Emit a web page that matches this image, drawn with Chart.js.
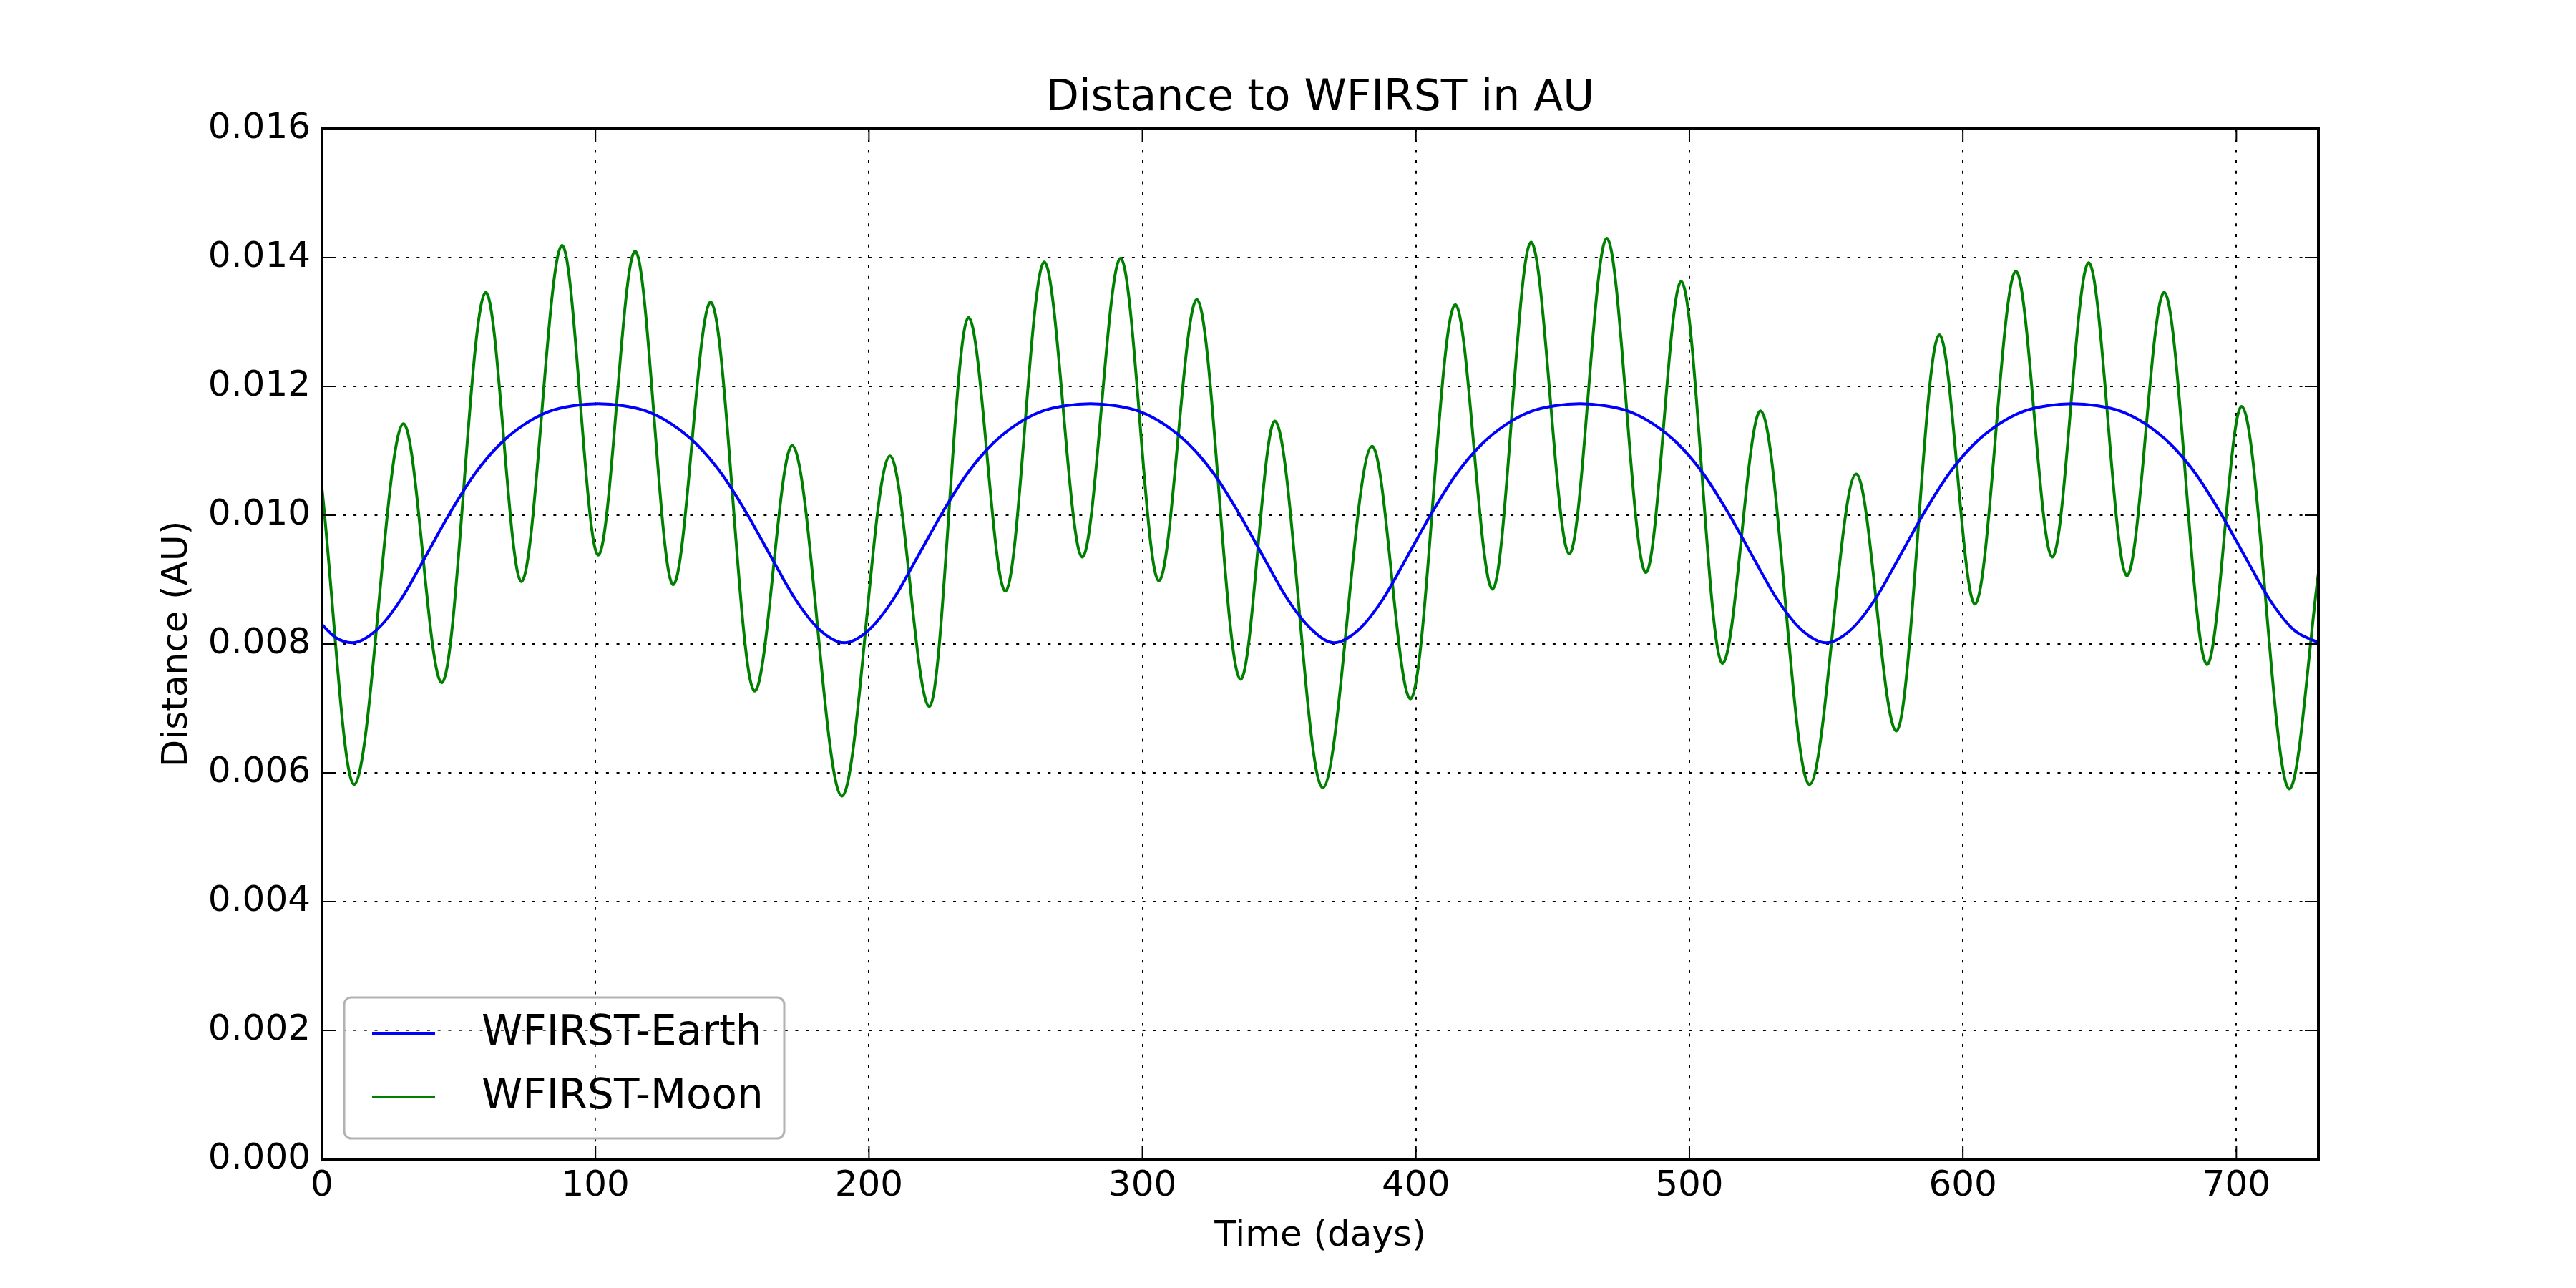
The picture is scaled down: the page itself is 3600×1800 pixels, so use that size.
<!DOCTYPE html>
<html>
<head>
<meta charset="utf-8">
<script src="https://cdn.jsdelivr.net/npm/chart.js@4.4.1/dist/chart.umd.min.js"></script>
<style>
  html, body { margin: 0; padding: 0; background: #ffffff; }
  canvas { display: block; }
</style>
</head>
<body>
<canvas id="c" width="3600" height="1800" style="width:3600px;height:1800px"></canvas>
<script>
// ---------------- data ----------------
const titleText = 'Distance to WFIRST in AU';
const xAxisTitle = 'Time (days)';
const yAxisTitle = 'Distance (AU)';
const seriesLabels = ['WFIRST-Earth', 'WFIRST-Moon'];
const seriesColors = ['#0000ff', '#008000'];

const xTickValues = [0, 100, 200, 300, 400, 500, 600, 700];
const xTickLabels = ['0', '100', '200', '300', '400', '500', '600', '700'];
const yTickValues = [0, 0.002, 0.004, 0.006, 0.008, 0.010, 0.012, 0.014, 0.016];
const yTickLabels = ['0.000', '0.002', '0.004', '0.006', '0.008', '0.010', '0.012', '0.014', '0.016'];

const earthDays = [0, 5, 11, 20, 29, 38, 47, 56, 65, 74, 83, 92, 101,
  110, 119, 128, 137, 146, 155, 164, 173, 182, 191,
  200, 209, 218, 227, 236, 245, 254, 263, 272, 281,
  290, 299, 308, 317, 326, 335, 344, 353, 362, 370,
  379, 388, 397, 406, 415, 424, 433, 442, 451, 460,
  469, 478, 487, 496, 505, 514, 523, 532, 541, 550,
  559, 568, 577, 586, 595, 604, 613, 622, 631, 640,
  649, 658, 667, 676, 685, 694, 703, 712, 721, 730];
const earthDist = [0.00830, 0.00810, 0.00802, 0.00822, 0.00870, 0.00937, 0.01005, 0.01065, 0.01110, 0.01141, 0.01161, 0.01170, 0.01173,
  0.01170, 0.01161, 0.01141, 0.01110, 0.01065, 0.01005, 0.00937, 0.00870, 0.00822, 0.00802,
  0.00822, 0.00870, 0.00937, 0.01005, 0.01065, 0.01110, 0.01141, 0.01161, 0.01170, 0.01173,
  0.01170, 0.01161, 0.01141, 0.01110, 0.01065, 0.01005, 0.00937, 0.00870, 0.00822, 0.00802,
  0.00822, 0.00870, 0.00937, 0.01005, 0.01065, 0.01110, 0.01141, 0.01161, 0.01170, 0.01173,
  0.01170, 0.01161, 0.01141, 0.01110, 0.01065, 0.01005, 0.00937, 0.00870, 0.00822, 0.00802,
  0.00822, 0.00870, 0.00937, 0.01005, 0.01065, 0.01110, 0.01141, 0.01161, 0.01170, 0.01173,
  0.01170, 0.01161, 0.01141, 0.01110, 0.01065, 0.01005, 0.00937, 0.00870, 0.00822, 0.00802];

const moonDays = [0, 11.7, 29.8, 43.8, 59.9, 72.9, 87.8, 101.0, 114.5, 128.4, 142.1, 158.2, 171.9,
  190.1, 207.7, 222.1, 236.4, 249.9, 264.1, 278.0, 292.0, 306.0, 319.9, 335.9, 348.4,
  365.9, 384.0, 398.0, 414.4, 428.0, 442.1, 456.1, 469.8, 484.1, 497.0, 512.1, 526.0,
  543.9, 561.0, 575.7, 591.4, 604.4, 619.4, 632.7, 646.0, 660.0, 673.6, 689.3, 701.9,
  719.4, 730];
const moonDist = [0.01041, 0.00582, 0.01142, 0.00740, 0.01346, 0.00897, 0.01419, 0.00938, 0.01410, 0.00892, 0.01331, 0.00727, 0.01108,
  0.00564, 0.01092, 0.00703, 0.01307, 0.00882, 0.01393, 0.00935, 0.01399, 0.00898, 0.01335, 0.00745, 0.01146,
  0.00577, 0.01107, 0.00715, 0.01327, 0.00885, 0.01424, 0.00940, 0.01430, 0.00911, 0.01363, 0.00770, 0.01162,
  0.00582, 0.01064, 0.00665, 0.01280, 0.00862, 0.01379, 0.00935, 0.01392, 0.00906, 0.01346, 0.00768, 0.01169,
  0.00575, 0.00910];

// ---------------- chart ----------------
const FONT = "'DejaVu Sans', 'Liberation Sans', sans-serif";
Chart.defaults.font.family = FONT;
Chart.defaults.color = '#000000';

const framePlugin = {
  id: 'frameTicks',
  afterDatasetsDraw(chart) {
    const { ctx, chartArea: a, scales: { x, y } } = chart;
    const TL = 19;
    ctx.save();
    ctx.strokeStyle = '#000000';
    ctx.lineWidth = 2;
    ctx.setLineDash([]);
    ctx.beginPath();
    x.ticks.forEach(t => {
      const px = x.getPixelForValue(t.value);
      ctx.moveTo(px, a.bottom); ctx.lineTo(px, a.bottom - TL);
      ctx.moveTo(px, a.top); ctx.lineTo(px, a.top + TL);
    });
    y.ticks.forEach(t => {
      const py = y.getPixelForValue(t.value);
      ctx.moveTo(a.left, py); ctx.lineTo(a.left + TL, py);
      ctx.moveTo(a.right, py); ctx.lineTo(a.right - TL, py);
    });
    ctx.stroke();
    ctx.lineWidth = 4;
    ctx.strokeRect(a.left, a.top, a.right - a.left, a.bottom - a.top);
    ctx.restore();
  },
  afterDraw(chart) {
    const { ctx, chartArea: a } = chart;
    const bx = a.left + 31, bw = 615, bh = 197;
    const by = a.bottom - 29 - bh;
    ctx.save();
    ctx.beginPath();
    ctx.roundRect(bx, by, bw, bh, 10);
    ctx.fillStyle = 'rgba(255,255,255,0.3)';
    ctx.fill();
    ctx.lineWidth = 3;
    ctx.strokeStyle = '#b2b2b2';
    ctx.stroke();
    const rows = [by + 50, by + 139];
    chart.data.datasets.forEach((ds, i) => {
      const ry = rows[i];
      ctx.beginPath();
      ctx.lineWidth = 4;
      ctx.strokeStyle = ds.borderColor;
      ctx.moveTo(bx + 39, ry);
      ctx.lineTo(bx + 127, ry);
      ctx.stroke();
      ctx.fillStyle = '#000000';
      ctx.font = '58px ' + FONT;
      ctx.textAlign = 'left';
      ctx.textBaseline = 'middle';
      ctx.fillText(ds.label, bx + 192, ry + 1);
    });
    ctx.restore();
  }
};

const toPts = (xs, ys) => xs.map((d, i) => ({ x: d, y: ys[i] }));

new Chart(document.getElementById('c'), {
  type: 'line',
  data: {
    datasets: [
      { label: seriesLabels[0], data: toPts(earthDays, earthDist), borderColor: seriesColors[0],
        borderWidth: 4, pointRadius: 0, fill: false, cubicInterpolationMode: 'monotone' },
      { label: seriesLabels[1], data: toPts(moonDays, moonDist), borderColor: seriesColors[1],
        borderWidth: 4, pointRadius: 0, fill: false, cubicInterpolationMode: 'monotone' }
    ]
  },
  options: {
    responsive: false,
    devicePixelRatio: 1,
    animation: false,
    events: [],
    layout: { padding: { left: 0, right: 360, top: 0, bottom: 0 } },
    plugins: {
      legend: { display: false },
      tooltip: { enabled: false },
      title: {
        display: true, text: titleText, fullSize: false, color: '#000000',
        font: { size: 60, weight: 'normal', family: FONT, lineHeight: 1.2 },
        padding: { top: 102, bottom: 6 }
      }
    },
    scales: {
      x: {
        type: 'linear', min: 0, max: 730,
        afterFit: s => { s.height = 180; },
        afterBuildTicks: s => { s.ticks = xTickValues.map(v => ({ value: v })); },
        ticks: { callback: (v, i) => xTickLabels[i], padding: 8, color: '#000000',
                 font: { size: 50, family: FONT }, maxRotation: 0, autoSkip: false },
        grid: { color: '#000000', lineWidth: 2, drawTicks: false },
        border: { display: false, dash: [4, 10.7] },
        title: { display: true, text: xAxisTitle, color: '#000000',
                 font: { size: 50, family: FONT, lineHeight: 1.2 }, padding: { top: 0, bottom: 42 } }
      },
      y: {
        type: 'linear', min: 0, max: 0.016,
        afterFit: s => { s.width = 450; },
        afterBuildTicks: s => { s.ticks = yTickValues.map(v => ({ value: v })); },
        ticks: { callback: (v, i) => yTickLabels[i], padding: 16, color: '#000000',
                 font: { size: 50, family: FONT }, autoSkip: false },
        grid: { color: '#000000', lineWidth: 2, drawTicks: false },
        border: { display: false, dash: [4, 10.7] },
        title: { display: true, text: yAxisTitle, color: '#000000',
                 font: { size: 50, family: FONT, lineHeight: 1.2 }, padding: { top: 218, bottom: 0 } }
      }
    }
  },
  plugins: [framePlugin]
});
</script>
</body>
</html>
